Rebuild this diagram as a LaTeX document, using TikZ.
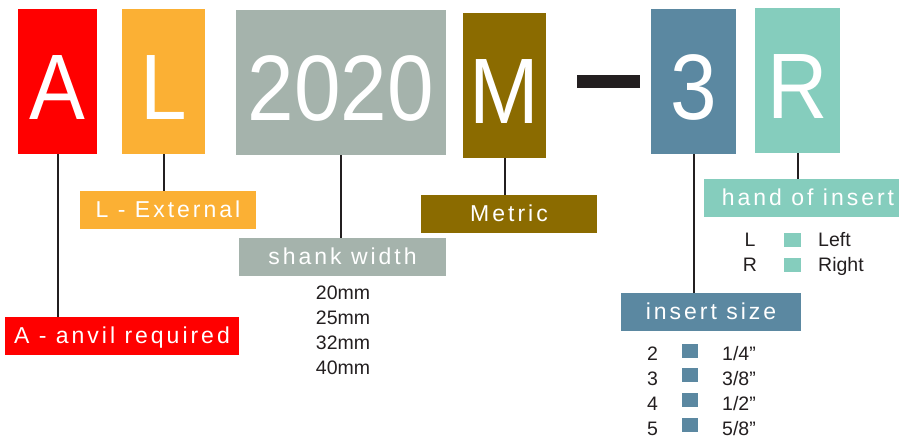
\documentclass[tikz,border=0pt]{standalone}
\usepackage{fontspec}
\setmainfont{Liberation Sans}
\newfontfamily\bigfont{Liberation Sans}[FakeStretch=0.9]
\newfontfamily\tagfont{Liberation Sans}[LetterSpace=13]
\usetikzlibrary{positioning}
\definecolor{anvilred}{HTML}{FF0000}
\definecolor{extorange}{HTML}{FBB034}
\definecolor{shankgray}{HTML}{A5B3AC}
\definecolor{metricbrown}{HTML}{8B6B00}
\definecolor{sizeblue}{HTML}{5B88A1}
\definecolor{handgreen}{HTML}{85CDBD}
\definecolor{inkblack}{HTML}{231F20}

\begin{document}
\begin{tikzpicture}[x=1pt, y=-1pt,
  code/.style={fill=#1, text=white, inner sep=0pt, minimum height=145pt, text height=110pt, text depth=35pt, font=\bigfont\fontsize{93}{93}\selectfont},
  tag/.style={fill=#1, text=white, inner sep=0pt, minimum height=38pt, text height=26pt, text depth=12pt, font=\tagfont\fontsize{23}{23}\selectfont},
  lead/.style={draw=inkblack, line width=2pt},
  chip/.style={fill=#1, inner sep=0pt, minimum width=16pt, minimum height=14pt},
  item/.style={text=inkblack, inner sep=0pt, font=\fontsize{19.5}{24}\selectfont},
]
\clip (0,0) rectangle (899,439);
% code letters
\node[code=anvilred, minimum width=79pt] (acode) at (57.5,81.5) {A};
\node[code=extorange, minimum width=83pt] (lcode) at (163.5,81.5) {L};
\node[code=shankgray, minimum width=210pt] (shank) at (341,82.5) {2020};
\node[code=metricbrown, minimum width=83pt] (mcode) at (504.5,85.5) {M};
\node[fill=inkblack, inner sep=0pt, minimum width=63pt, minimum height=13pt] (hyphen) at (608.5,81.5) {};
\node[code=sizeblue, minimum width=85pt] (size) at (693.5,81.5) {3};
\node[code=handgreen, minimum width=85pt] (hand) at (797.5,80.5) {R};
% meaning tags
\node[tag=anvilred, minimum width=234pt] (anviltag) at (122,336) {A - anvil required};
\node[tag=extorange, minimum width=176pt] (exttag) at (168,210) {L - External};
\node[tag=shankgray, minimum width=207pt] (shanktag) at (342.5,257) {shank width};
\node[tag=metricbrown, minimum width=176pt] (metrictag) at (509,214) {Metric};
\node[tag=sizeblue, minimum width=180pt] (sizetag) at (711,312) {insert size};
\node[tag=handgreen, minimum width=208pt] (handtag) at (808,198) {hand of insert};
\draw[lead] (acode.south) -- (acode.south |- anviltag.north);
\draw[lead] (lcode.south) -- (lcode.south |- exttag.north);
\draw[lead] (shank.south) -- (shank.south |- shanktag.north);
\draw[lead] (mcode.south) -- (mcode.south |- metrictag.north);
\draw[lead] (size.south) -- (size.south |- sizetag.north);
\draw[lead] (hand.south) -- (hand.south |- handtag.north);
% shank widths
\node[item, anchor=base] (w20) at (343,299.3) {20mm};
\node[item, anchor=base] (w25) at (343,324.2) {25mm};
\node[item, anchor=base] (w32) at (343,349.1) {32mm};
\node[item, anchor=base] (w40) at (343,374) {40mm};
% hand
\node[item, anchor=base] (hl) at (750,246.7) {L};
\node[item, anchor=base] (hr) at (750,271.7) {R};
\node[chip=handgreen, minimum width=17pt] (chipl) at (792.5,240) {};
\node[chip=handgreen, minimum width=17pt] (chipr) at (792.5,265) {};
\node[item, anchor=base west] (left) at (818,246.7) {Left};
\node[item, anchor=base west] (right) at (818,271.7) {Right};
% insert sizes
\node[item, anchor=base] (s2) at (652.5,360.7) {2};
\node[item, anchor=base] (s3) at (652.5,385.5) {3};
\node[item, anchor=base] (s4) at (652.5,410.3) {4};
\node[item, anchor=base] (s5) at (652.5,435.1) {5};
\node[chip=sizeblue] (chip2) at (690,350.5) {};
\node[chip=sizeblue] (chip3) at (690,375.3) {};
\node[chip=sizeblue] (chip4) at (690,400.1) {};
\node[chip=sizeblue] (chip5) at (690,424.9) {};
\node[item, anchor=base west] (in2) at (722,360.7) {1/4”};
\node[item, anchor=base west] (in3) at (722,385.5) {3/8”};
\node[item, anchor=base west] (in4) at (722,410.3) {1/2”};
\node[item, anchor=base west] (in5) at (722,435.1) {5/8”};
\end{tikzpicture}
\end{document}
